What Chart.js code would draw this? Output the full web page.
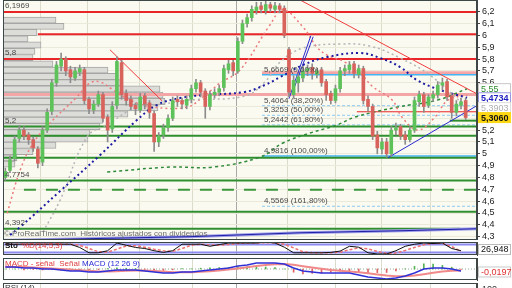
<!DOCTYPE html>
<html>
<head>
<meta charset="utf-8">
<script src="https://cdn.jsdelivr.net/npm/chart.js@4.4.1/dist/chart.umd.min.js"></script>
<style>
  body { margin: 0; background: #fff; width: 512px; height: 288px; overflow: hidden; position: relative; }
  canvas { position: absolute; left: 0; }
</style>
</head>
<body>
<canvas id="main" width="512" height="240" style="top:0"></canvas>
<canvas id="sto" width="512" height="17" style="top:240px"></canvas>
<canvas id="macd" width="512" height="26" style="top:256px"></canvas>
<canvas id="rsi" width="512" height="40" style="top:281px"></canvas>
<script>
// --- price data (one candle per session) ---
const opens = [4.80,4.86,4.96,5.13,5.2,5.16,5.12,5.04,4.93,5.2,
  5.36,5.6,5.74,5.8,5.71,5.64,5.69,5.71,5.46,5.37,
  5.42,5.5,5.31,5.21,5.41,5.77,5.51,5.46,5.41,5.37,
  5.49,5.43,5.34,5.1,5.16,5.22,5.3,5.46,5.45,5.41,
  5.46,5.55,5.6,5.53,5.4,5.5,5.52,5.56,5.71,5.77,
  5.7,5.95,6.1,6.15,6.21,6.25,6.21,6.26,6.22,6.25,
  6.23,5.88,5.5,5.6,5.64,5.7,5.73,5.67,5.71,5.61,
  5.51,5.45,5.55,5.7,5.71,5.76,5.67,5.72,5.46,5.4,
  5.16,5.04,5.1,5.0,5.2,5.23,5.16,5.12,5.2,5.44,
  5.5,5.41,5.47,5.5,5.58,5.61,5.49,5.35,5.41,5.45];
const closes = [4.85,4.95,5.12,5.2,5.15,5.12,5.05,4.92,5.2,5.35,
  5.6,5.75,5.8,5.7,5.65,5.7,5.72,5.45,5.38,5.42,
  5.5,5.3,5.2,5.4,5.78,5.5,5.45,5.4,5.38,5.48,
  5.42,5.35,5.1,5.15,5.22,5.3,5.45,5.44,5.42,5.46,
  5.55,5.6,5.52,5.4,5.5,5.52,5.55,5.72,5.76,5.7,
  5.95,6.1,6.15,6.22,6.24,6.22,6.26,6.23,6.25,6.22,
  6.0,5.52,5.62,5.65,5.7,5.72,5.68,5.7,5.6,5.5,
  5.45,5.55,5.7,5.72,5.75,5.68,5.72,5.45,5.4,5.15,
  5.05,5.1,5.0,5.2,5.22,5.15,5.12,5.2,5.45,5.5,
  5.4,5.48,5.5,5.58,5.6,5.48,5.35,5.42,5.44,5.306];
const highs = [4.88,4.98,5.15,5.24,5.23,5.18,5.14,5.06,5.23,5.38,
  5.63,5.78,5.85,5.82,5.74,5.73,5.75,5.73,5.48,5.45,
  5.53,5.52,5.33,5.44,5.82,5.79,5.54,5.49,5.43,5.51,
  5.51,5.45,5.36,5.18,5.25,5.33,5.48,5.49,5.47,5.49,
  5.58,5.63,5.62,5.55,5.53,5.55,5.58,5.75,5.79,5.79,
  5.98,6.13,6.18,6.25,6.28,6.28,6.29,6.28,6.28,6.27,
  6.25,5.9,5.66,5.68,5.74,5.75,5.76,5.72,5.73,5.63,
  5.53,5.58,5.73,5.75,5.78,5.78,5.75,5.74,5.49,5.42,
  5.19,5.13,5.13,5.23,5.26,5.25,5.19,5.23,5.48,5.53,
  5.52,5.5,5.53,5.61,5.64,5.63,5.51,5.45,5.47,5.47];
const lows = [4.775,4.84,4.94,5.1,5.12,5.08,5.02,4.88,4.9,5.18,
  5.33,5.57,5.7,5.66,5.6,5.62,5.66,5.42,5.34,5.34,
  5.4,5.27,5.1,5.18,5.38,5.46,5.41,5.37,5.33,5.35,
  5.38,5.3,5.02,5.06,5.13,5.19,5.28,5.4,5.38,5.38,
  5.43,5.52,5.48,5.3,5.37,5.47,5.49,5.53,5.68,5.66,
  5.68,5.93,6.07,6.12,6.18,6.19,6.18,6.2,6.19,6.19,
  5.98,5.48,5.47,5.52,5.61,5.66,5.63,5.64,5.57,5.45,
  5.42,5.43,5.52,5.66,5.68,5.64,5.64,5.42,5.36,5.12,
  5.0,5.0,4.97,4.98,5.16,5.12,5.08,5.1,5.18,5.4,
  5.35,5.39,5.44,5.47,5.54,5.45,5.3,5.32,5.38,5.29];

// moving averages: [session index, price]
const maNavy = [[1,4.314],[3.2,4.382],[11.8,4.686],[20.4,4.99],[28.3,5.285],[32.6,5.412],[37.6,5.471],[42.5,5.496],[51.5,5.522],[55.8,5.581],[59.1,5.648],[64,5.75],[69.2,5.817],[76.3,5.851],[80.6,5.809],[84.9,5.733],[88.5,5.623],[93.5,5.539],[99.3,5.4734]];
const maGray = [[8.1,4.339],[11.8,4.61],[17.6,5.142],[22.5,5.26],[27.9,5.387],[33.9,5.42],[39.7,5.454],[51.5,5.488],[55.8,5.606],[59.1,5.775],[64,5.893],[72,5.927],[78.4,5.91],[84.9,5.809],[91.3,5.665],[99.3,5.3903]];
const maRed = [[0.4,4.498],[3.2,4.863],[6,5.091],[9.6,5.26],[15.4,5.48],[18.2,5.598],[20.4,5.606],[23.2,5.539],[26.8,5.454],[31.8,5.395],[39.1,5.395],[42.5,5.48],[46.2,5.598],[50.5,5.708],[56.9,6.088],[59.7,6.215],[64,6.071],[67,5.902],[69.2,5.834],[73,5.775],[76.3,5.682],[79.1,5.564],[83.2,5.454],[85.3,5.31],[88.7,5.201],[92.4,5.31],[95.2,5.454],[99.3,5.496]];
const maGreen = [[21.9,4.846],[35.4,4.888],[44.7,4.888],[54.8,4.973],[59.7,5.091],[65.5,5.175],[71.3,5.243],[75.2,5.31],[84.4,5.395],[93,5.454],[99.3,5.55]];

// volume by price (bin centre, volume)
const profPrice = [6.298,6.235,6.172,6.108,6.045,5.981,5.918,5.854,5.791,5.727,5.664,5.600,5.537,5.473,5.410,5.346,5.283,5.219,5.156,5.092,5.029,4.965,4.902,4.838];
const profVol = [53,61,34,25,38,32,30,50,105,115,118,157,160,162,155,125,100,97,87,85,53,30,14,12];

// horizontal levels: [price, from session]
const redLevels = [[6.1969,-1],[6.01,7],[5.8,-1]];
const pinkLevels = [[5.5,-1],[5.685,55.2]];
const thinRedLevels = [[5.355,75.6]];
const greenLevels = [[5.23,-1],[5.153,-1],[4.967,-1],[4.7754,-1],[4.51,-1],[5.28,95.6]];
const greenDashLevels = [[4.697,4]];
const fibStart = 55.2;
const fibLevels = [5.6669,5.4064,5.3253,5.2442,4.9816,4.5569];
const fibPct = [0,38.2,50,61.8,100,161.8];
const leftLabels = [['6,1969',6.1969],['5,8',5.8],['5,2',5.23],['4,7754',4.7754],['4,392',4.367]];

// trend lines: [session0, price0, session1, price1]
const redTrends = [[22.5,5.879,33.7,5.448],[63.4,6.299,101.4,5.507]];
const blueTrends = [[82.3,4.967,101.4,5.406],[61,5.465,65.7,5.997],[61.9,5.533,66.2,5.989]];
const longTrend = [[-0.5,4.27],[1,4.27],[39.7,4.30],[63.4,4.333],[84.9,4.35],[101.4,4.367]];
const bottomGreen = [[-0.5,4.367],[97.8,4.367]];

// lower panels, sampled every second session
const subIdx = Array.from({ length: 50 }, (_, k) => k * 2);
const stoK = [83,83,83,83,83,83,83,83,58,17,17,33,92,75,58,50,33,20,33,83,83,83,67,80,92,92,92,92,100,92,60,17,17,17,17,20,30,67,60,17,8,8,33,67,83,92,88,92,50,33];
const stoD = [83,83,83,83,83,83,83,83,75,50,25,22,45,70,72,60,45,32,28,50,75,83,78,75,80,88,92,92,95,95,82,55,25,17,17,18,22,40,55,48,28,12,15,35,58,78,88,90,65,26.948];
const macdLine = [0.02,0.02,0.01,0.01,0,0,-0.01,-0.02,-0.02,-0.03,-0.03,-0.02,-0.01,-0.01,-0.01,-0.02,-0.03,-0.04,-0.04,-0.03,-0.03,-0.02,-0.01,0,0.01,0.03,0.04,0.06,0.06,0.06,0.05,0.01,-0.02,-0.03,-0.04,-0.04,-0.04,-0.04,-0.06,-0.08,-0.09,-0.1,-0.09,-0.07,-0.04,0,0.01,0.01,0,-0.0197];
const macdSignal = [0.02,0.02,0.02,0.015,0.01,0.005,0,-0.005,-0.012,-0.018,-0.024,-0.025,-0.022,-0.018,-0.015,-0.016,-0.02,-0.026,-0.032,-0.033,-0.032,-0.028,-0.022,-0.015,-0.006,0.005,0.017,0.03,0.04,0.047,0.05,0.042,0.028,0.014,0.002,-0.01,-0.018,-0.024,-0.032,-0.042,-0.054,-0.065,-0.072,-0.072,-0.066,-0.052,-0.038,-0.026,-0.018,-0.016];
const macdHist = [0,0,-0.01,-0.005,-0.01,-0.005,-0.01,-0.015,-0.008,-0.012,-0.006,0.005,0.012,0.008,0.005,-0.004,-0.01,-0.014,-0.008,0.003,0.002,0.008,0.012,0.015,0.016,0.025,0.023,0.03,0.02,0.013,0,-0.032,-0.048,-0.044,-0.042,-0.03,-0.022,-0.016,-0.028,-0.038,-0.036,-0.035,-0.018,0.002,0.026,0.052,0.048,0.036,0.018,-0.004];

const gridTicks = [7.67,17.78,28.96,40.15,49.61,60.79,71.11,81,91.54];
const yearTick = 49.61;
const priceTicks = [4.3,4.4,4.5,4.6,4.7,4.8,4.9,5,5.1,5.2,5.3,5.4,5.5,5.6,5.7,5.8,5.9,6,6.1,6.2];

const xMin = -0.5, xMax = 101.44;
const yMin = 4.272, yMax = 6.299;
const FONT = "'Liberation Sans', Arial, sans-serif";
Chart.defaults.font.family = FONT;
Chart.defaults.font.size = 9;

const fmt = (v, d) => v.toFixed(d).replace('.', ',');

// panel background + frame
const panelPlugin = {
  id: 'panel',
  beforeDraw(chart, args, opts) {
    const { ctx, chartArea: a } = chart;
    ctx.save();
    ctx.fillStyle = opts.bg || '#fff';
    ctx.fillRect(a.left, a.top, a.width, a.height);
    ctx.restore();
  },
  afterDraw(chart) {
    const { ctx, chartArea: a } = chart;
    ctx.save();
    ctx.strokeStyle = '#3c4848';
    ctx.lineWidth = 1;
    ctx.strokeRect(a.left + 0.5, a.top + 0.5, a.width - 1, a.height - 1);
    ctx.restore();
  }
};

function xAxis() {
  return {
    type: 'linear', min: xMin, max: xMax, offset: false,
    grid: { color: (c) => (c.tick && c.tick.value === yearTick ? '#a8a8a8' : '#dddbc9'), drawTicks: false, offset: false },
    border: { display: false },
    ticks: { display: false },
    afterBuildTicks: (s) => { s.ticks = gridTicks.map((v) => ({ value: v })); },
    afterFit: (s) => { s.height = 0; s.paddingLeft = 0; s.paddingRight = 0; }
  };
}

function lineSet(points, color, width, dash, order) {
  return {
    type: 'line', data: points.map((p) => ({ x: p[0], y: p[1] })),
    borderColor: color, borderWidth: width, borderDash: dash || [],
    pointRadius: 0, fill: false, order: order
  };
}
function levelSet(level, color, width, dash, order) {
  return lineSet([[level[1] < 0 ? xMin : level[1], level[0]], [xMax, level[0]]], color, width, dash, order);
}

function tag(ctx, yPix, text, color, bg, border, bold) {
  ctx.font = (bold ? 'bold ' : '') + '9px ' + FONT;
  ctx.fillStyle = bg;
  ctx.fillRect(478, yPix - 5.5, 33, 11);
  if (border) {
    ctx.strokeStyle = border;
    ctx.lineWidth = 1;
    ctx.strokeRect(478.5, yPix - 5, 32, 10);
  }
  ctx.fillStyle = color;
  ctx.textAlign = 'left';
  ctx.textBaseline = 'middle';
  ctx.fillText(text, 481, yPix + 0.5);
}

// --- main price panel ---
const datasets = [];
datasets.push({
  type: 'bar', xAxisID: 'x', yAxisID: 'y', grouped: false, order: 0,
  data: closes.map((c, i) => ({ x: i, y: [opens[i], c] })),
  backgroundColor: closes.map((c, i) => (c >= opens[i] ? '#5ec25a' : '#d8625c')),
  barPercentage: 1, categoryPercentage: 1, maxBarThickness: 3, minBarLength: 1
});
datasets.push({
  type: 'bar', xAxisID: 'x', yAxisID: 'y', grouped: false, order: 1,
  data: closes.map((c, i) => ({ x: i, y: [lows[i], highs[i]] })),
  backgroundColor: '#8c8c8c',
  barPercentage: 1, categoryPercentage: 1, maxBarThickness: 1
});
redTrends.forEach((t) => datasets.push(lineSet([[t[0], t[1]], [t[2], t[3]]], '#f03c3c', 1, [], 2)));
blueTrends.forEach((t) => datasets.push(lineSet([[t[0], t[1]], [t[2], t[3]]], '#2a2ad0', 1, [], 2)));
datasets.push(lineSet(longTrend, '#9c9ce8', 3, [], 4));
datasets.push(lineSet(longTrend, '#2020a8', 1, [], 3));
datasets.push(Object.assign(lineSet(maNavy, '#1c1ca0', 2, [2, 3], 3), { tension: 0.4 }));
datasets.push(Object.assign(lineSet(maGray, '#b4b4b4', 1.5, [2, 3], 3), { tension: 0.4 }));
datasets.push(Object.assign(lineSet(maRed, '#ec7a7a', 1.5, [2, 3], 3), { tension: 0.4 }));
datasets.push(Object.assign(lineSet(maGreen, '#2f8a3a', 1.5, [3, 3], 3), { tension: 0.4 }));
redLevels.forEach((l) => datasets.push(levelSet(l, '#e8262a', 2, [], 5)));
pinkLevels.forEach((l) => datasets.push(levelSet(l, '#f4a6a6', 3, [], 6)));
thinRedLevels.forEach((l) => datasets.push(levelSet(l, '#e8262a', 1, [], 5)));
greenLevels.forEach((l) => datasets.push(levelSet(l, '#2f8f2f', 2, [], 5)));
greenDashLevels.forEach((l) => datasets.push(levelSet(l, '#3c963c', 2, [12, 10], 5)));
fibLevels.forEach((p, k) => {
  const solid = fibPct[k] === 0 || fibPct[k] === 100;
  datasets.push(levelSet([p, fibStart], solid ? '#40b4f4' : '#8ccaf0', solid ? 1.5 : 1, solid ? [] : [3, 2], 5));
});
datasets.push(lineSet(bottomGreen, '#2f8f2f', 2, [], 5));
datasets.push({
  type: 'bar', indexAxis: 'y', xAxisID: 'xv', yAxisID: 'yv', grouped: false, order: 10,
  data: profPrice.map((p, k) => ({ y: p, x: profVol[k] })),
  backgroundColor: '#dcdcd9', borderColor: '#a6a6a4', borderWidth: 1,
  barPercentage: 1, categoryPercentage: 1, maxBarThickness: 7
});

const mainNotes = {
  id: 'mainNotes',
  afterDraw(chart) {
    const { ctx, scales: { x, y } } = chart;
    ctx.save();
    ctx.font = '8px ' + FONT;
    ctx.fillStyle = '#4a4a4a';
    ctx.textAlign = 'left';
    ctx.textBaseline = 'bottom';
    fibLevels.forEach((p, k) => {
      ctx.fillText(fmt(p, 4) + ' (' + fmt(fibPct[k], 2) + '%)', x.getPixelForValue(fibStart) + 2, y.getPixelForValue(p) - 1);
    });
    leftLabels.forEach((l) => ctx.fillText(l[0], 5, y.getPixelForValue(l[1]) - 2));
    ctx.fillStyle = '#6a6a6a';
    ctx.fillText('\u00a9 ProRealTime.com  Hist\u00f3ricos ajustados con dividendos', 4, 238);
    tag(ctx, y.getPixelForValue(maGreen[maGreen.length - 1][1]), fmt(maGreen[maGreen.length - 1][1], 2), '#2a8a2a', '#fff', '#c8c8c8');
    tag(ctx, y.getPixelForValue(maNavy[maNavy.length - 1][1]), fmt(maNavy[maNavy.length - 1][1], 4), '#1c1cc0', '#fff', '#9a9ae0', true);
    tag(ctx, y.getPixelForValue(maGray[maGray.length - 1][1]), fmt(maGray[maGray.length - 1][1], 4), '#b0b0b0', '#fff', '#dddddd');
    tag(ctx, y.getPixelForValue(closes[closes.length - 1]), fmt(closes[closes.length - 1], 4), '#111', '#ffd814', null, true);
    ctx.restore();
  }
};

new Chart(document.getElementById('main'), {
  type: 'line',
  data: { datasets },
  options: {
    responsive: false, animation: false, events: [],
    layout: { padding: { left: 3, top: 0, right: 0, bottom: 0 } },
    plugins: { legend: { display: false }, tooltip: { enabled: false }, panel: { bg: '#fbfaf1' } },
    scales: {
      x: xAxis(),
      xv: { type: 'linear', display: false, min: 0, max: 474 },
      y: {
        type: 'linear', position: 'right', min: yMin, max: yMax,
        grid: { color: '#ebe9d9', tickColor: '#444', tickLength: 3 },
        border: { color: '#444' },
        ticks: { color: '#222', padding: 2, autoSkip: false, font: { size: 9 }, callback: (v) => String(Math.round(v * 10) / 10).replace('.', ',') },
        afterBuildTicks: (s) => { s.ticks = priceTicks.map((v) => ({ value: v })); },
        afterFit: (s) => { s.width = 35; s.paddingTop = 0; s.paddingBottom = 0; }
      },
      yv: { type: 'linear', display: false, min: yMin, max: yMax }
    }
  },
  plugins: [panelPlugin, mainNotes]
});

// --- small oscillator panel ---
function sideAxis(min, max) {
  return {
    type: 'linear', position: 'right', min: min, max: max,
    grid: { display: false }, border: { color: '#444' }, ticks: { display: false },
    afterFit: (s) => { s.width = 35; s.paddingTop = 0; s.paddingBottom = 0; }
  };
}
function subOptions(min, max, padTop, padBottom) {
  return {
    responsive: false, animation: false, events: [],
    layout: { padding: { left: 3, top: padTop, right: 0, bottom: padBottom } },
    plugins: { legend: { display: false }, tooltip: { enabled: false }, panel: { bg: '#fff' } },
    scales: { x: xAxis(), y: sideAxis(min, max) }
  };
}

new Chart(document.getElementById('sto'), {
  type: 'line',
  data: {
    datasets: [
      lineSet(subIdx.map((i, k) => [i, stoK[k]]), '#111', 1, [], 0),
      lineSet(subIdx.map((i, k) => [i, stoD[k]]), '#ee7070', 1.5, [3, 2], 1),
      levelSet([80, -1], '#8a8af0', 2, [], 2),
      levelSet([20, -1], '#8a8af0', 2, [], 2)
    ]
  },
  options: subOptions(0, 100, 2, 2),
  plugins: [panelPlugin, {
    id: 'stoNotes',
    afterDraw(chart) {
      const { ctx, scales: { y } } = chart;
      ctx.save();
      ctx.font = 'bold 8px ' + FONT;
      ctx.textBaseline = 'middle';
      ctx.fillStyle = '#111';
      ctx.fillText('Sto', 5, 6);
      ctx.font = '8px ' + FONT;
      ctx.fillStyle = '#e03c3c';
      ctx.fillText('%D(14,5,3)', 22, 6);
      tag(ctx, y.getPixelForValue(stoD[stoD.length - 1]) - 2, fmt(stoD[stoD.length - 1], 3), '#111', '#fff', '#bbb');
      ctx.restore();
    }
  }]
});

// --- MACD panel ---
new Chart(document.getElementById('macd'), {
  type: 'line',
  data: {
    datasets: [
      lineSet(subIdx.map((i, k) => [i, macdLine[k]]), '#3030d8', 1.5, [], 0),
      lineSet(subIdx.map((i, k) => [i, macdSignal[k]]), '#f08a8a', 2, [], 1),
      levelSet([0, -1], '#8fae8f', 1, [1, 2], 3),
      {
        type: 'bar', grouped: false, order: 2,
        data: subIdx.map((i, k) => ({ x: i, y: macdHist[k] })),
        backgroundColor: macdHist.map((h) => (h >= 0 ? '#54b254' : '#e06060')),
        barPercentage: 1, categoryPercentage: 1, maxBarThickness: 1
      }
    ]
  },
  options: subOptions(-0.11, 0.11, 2, 2),
  plugins: [panelPlugin, {
    id: 'macdNotes',
    afterDraw(chart) {
      const { ctx, scales: { y } } = chart;
      ctx.save();
      ctx.font = '8px ' + FONT;
      ctx.textBaseline = 'middle';
      ctx.fillStyle = '#e03c3c';
      ctx.fillText('MACD - se\u00f1al  Se\u00f1al', 5, 8);
      ctx.fillStyle = '#2a2ad8';
      ctx.fillText('MACD (12 26 9)', 82, 8);
      tag(ctx, y.getPixelForValue(macdLine[macdLine.length - 1]) + 1, fmt(macdLine[macdLine.length - 1], 4), '#e03030', '#fff', '#c8c8c8');
      ctx.restore();
    }
  }]
});

// --- RSI panel (only its top edge is visible) ---
new Chart(document.getElementById('rsi'), {
  type: 'line',
  data: { datasets: [] },
  options: subOptions(0, 100, 2, 2),
  plugins: [panelPlugin, {
    id: 'rsiNotes',
    afterDraw(chart) {
      const { ctx } = chart;
      ctx.save();
      ctx.font = '8px ' + FONT;
      ctx.textBaseline = 'top';
      ctx.fillStyle = '#333';
      ctx.fillText('RSI (14)', 5, 3);
      ctx.font = '9px ' + FONT;
      ctx.fillText('100', 482, 4);
      ctx.restore();
    }
  }]
});
</script>
</body>
</html>
